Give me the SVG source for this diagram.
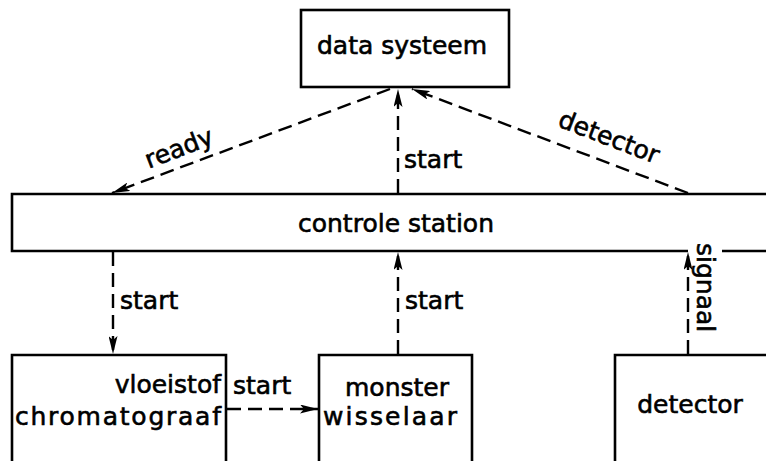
<svg xmlns="http://www.w3.org/2000/svg" width="766" height="461" viewBox="0 0 766 461">
<defs>
<style>
.box{fill:none;stroke:#000;stroke-width:2.6}
.ln{fill:none;stroke:#000;stroke-width:2.4;stroke-dasharray:14 7}
.t{font-family:"DejaVu Sans",sans-serif;font-size:25px;fill:#000;stroke:#000;stroke-width:0.6}
</style>
<marker id="ah" viewBox="0 0 18 9" refX="18" refY="4.5" markerWidth="18" markerHeight="9" markerUnits="userSpaceOnUse" orient="auto">
<path d="M0,0 L18,4.5 L0,9 L4,4.5 Z" fill="#000"/>
</marker>
</defs>
<rect width="766" height="461" fill="#fff"/>
<g id="data-systeem">
<rect class="box" x="301" y="10" width="208" height="77"/>
<text class="t" x="402" y="54" text-anchor="middle">data systeem</text>
</g>
<g id="controle-station">
<path class="box" d="M770,194 H12 V251 H688 M722,251 H770"/>
<text class="t" x="396" y="232" text-anchor="middle" font-size="26">controle station</text>
</g>
<g id="chromatograaf">
<path class="box" d="M12,470 V355 H226 V470"/>
<text class="t" x="221" y="393" text-anchor="end">vloeistof</text>
<text class="t" x="15" y="425" textLength="206">chromatograaf</text>
</g>
<g id="monster-wisselaar">
<path class="box" d="M319,470 V355 H472 V470"/>
<text class="t" x="397" y="396" text-anchor="middle">monster</text>
<text class="t" x="323" y="425" textLength="134">wisselaar</text>
</g>
<g id="detector">
<path class="box" d="M615,470 V355 H770"/>
<text class="t" x="690" y="413" text-anchor="middle">detector</text>
</g>
<g id="connectors">
<line class="ln" x1="390" y1="89" x2="112" y2="193" marker-end="url(#ah)"/>
<line class="ln" x1="398" y1="193" x2="398" y2="89" marker-end="url(#ah)"/>
<line class="ln" x1="688" y1="193" x2="412" y2="89" marker-end="url(#ah)"/>
<line class="ln" x1="113" y1="252" x2="113" y2="354" marker-end="url(#ah)"/>
<line class="ln" x1="398" y1="354" x2="398" y2="252" marker-end="url(#ah)"/>
<line class="ln" x1="688" y1="354" x2="688" y2="252" marker-end="url(#ah)"/>
<line class="ln" x1="227" y1="409" x2="318" y2="409" marker-end="url(#ah)"/>
<text class="t" transform="translate(182,156) rotate(-21)" text-anchor="middle">ready</text>
<text class="t" x="404" y="168">start</text>
<text class="t" transform="translate(606,145) rotate(21)" text-anchor="middle">detector</text>
<text class="t" x="120" y="309">start</text>
<text class="t" x="405" y="309">start</text>
<text class="t" transform="translate(697,243) rotate(90)">signaal</text>
<text class="t" x="233" y="394">start</text>
</g>
</svg>
